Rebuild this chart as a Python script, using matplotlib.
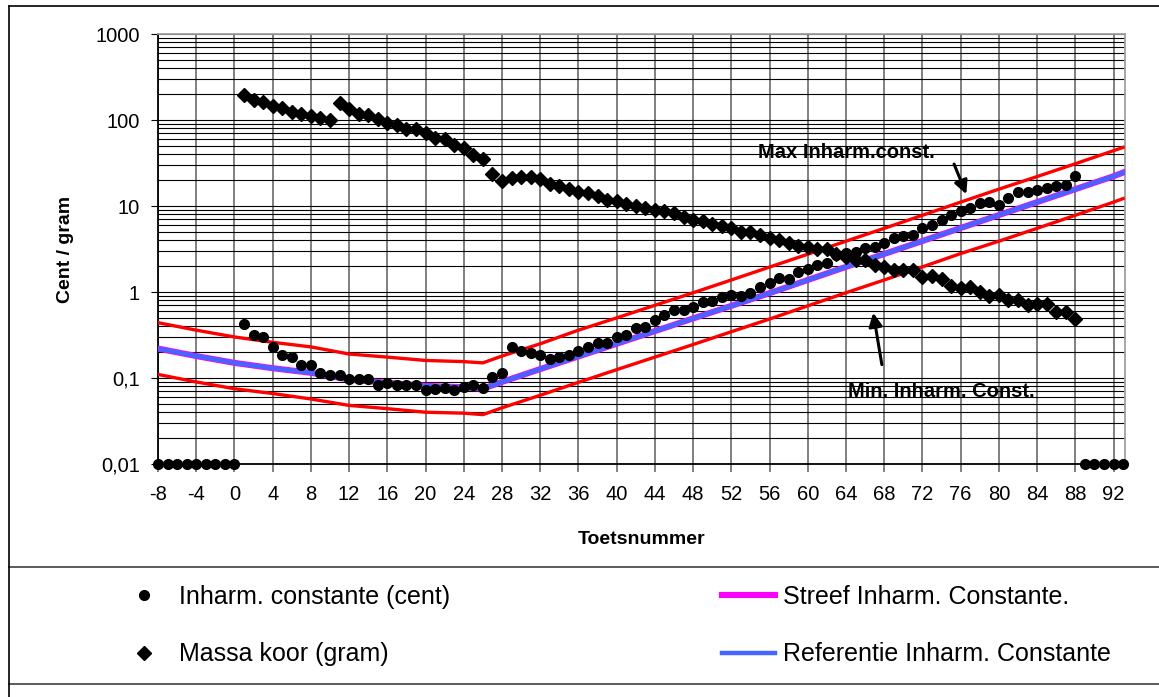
import numpy as np
import matplotlib
matplotlib.use('Agg')
import matplotlib.pyplot as plt
from matplotlib.lines import Line2D
from matplotlib.ticker import LogLocator, NullFormatter

plt.rcParams['font.family'] = ['Liberation Sans', 'DejaVu Sans']

# measured inharmonicity per key (cent), 0.01 = no measurement
keys = list(range(-8, 94))
inharm = [0.01, 0.01, 0.01, 0.01, 0.01, 0.01, 0.01, 0.01, 0.01,
          0.42, 0.32, 0.30, 0.23, 0.187, 0.176, 0.141, 0.143, 0.115, 0.108,
          0.108, 0.097, 0.097, 0.097, 0.082, 0.088, 0.082, 0.082, 0.082, 0.073,
          0.075, 0.077, 0.073, 0.079, 0.082, 0.077, 0.103, 0.113, 0.232, 0.204,
          0.194, 0.184, 0.168, 0.176, 0.184, 0.207, 0.230, 0.252, 0.252, 0.301,
          0.315, 0.377, 0.394, 0.471, 0.539, 0.617, 0.617, 0.674, 0.771, 0.791,
          0.883, 0.922, 0.898, 0.98, 1.15, 1.28, 1.44, 1.41, 1.73, 1.85,
          2.08, 2.18, 2.70, 2.83, 2.88, 3.24, 3.38, 3.76, 4.24, 4.43,
          4.63, 5.53, 6.05, 6.79, 7.91, 8.65, 9.5, 10.8, 11.0, 10.4,
          12.4, 14.4, 14.4, 15.2, 16.2, 16.9, 17.7, 22.1,
          0.01, 0.01, 0.01, 0.01, 0.01]

# string mass per key (gram)
mass_keys = list(range(1, 89))
mass = [195, 171, 162, 145, 139, 125, 118, 111, 106, 99,
        156, 133, 119, 113, 102, 93, 86.5, 77.6, 77.6, 69.8,
        62, 59.4, 50.6, 47.5, 39.7, 35.6, 23.6, 19.6, 21.2, 22.0,
        22.0, 20.5, 18.2, 16.9, 15.8, 14.4, 14.2, 13.2, 11.9, 11.3,
        10.6, 10.0, 9.5, 9.06, 8.65, 8.3, 7.44, 6.92, 6.61, 6.21,
        5.78, 5.53, 5.05, 5.05, 4.63, 4.23, 4.04, 3.70, 3.44, 3.32,
        3.18, 3.18, 2.78, 2.54, 2.36, 2.36, 2.07, 1.94, 1.81, 1.81,
        1.81, 1.51, 1.54, 1.41, 1.17, 1.10, 1.15, 1.01, 0.90, 0.92,
        0.81, 0.81, 0.705, 0.72, 0.72, 0.59, 0.59, 0.49]

# reference / target curve and its max / min band
curve_keys = [-8, -4, 0, 4, 8, 12, 16, 20, 24, 26, 28, 32, 36, 40, 44, 48,
              52, 56, 60, 64, 68, 72, 76, 80, 84, 88, 92, 93]
ref = [0.220, 0.180, 0.150, 0.130, 0.115, 0.096, 0.088, 0.081, 0.078, 0.075,
       0.090, 0.127, 0.178, 0.250, 0.351, 0.493, 0.69, 0.97, 1.38, 1.96,
       2.77, 3.92, 5.55, 7.85, 11.1, 15.7, 22.2, 24.5]
streef = [0.220, 0.180, 0.150, 0.130, 0.115, 0.096, 0.088, 0.081, 0.078, 0.075,
          0.090, 0.127, 0.178, 0.250, 0.351, 0.493, 0.69, 0.97, 1.38, 1.96,
          2.77, 3.92, 5.55, 7.85, 11.1, 15.7, 22.2, 24.5]
max_line = [0.44, 0.36, 0.30, 0.26, 0.23, 0.19, 0.175, 0.16, 0.155, 0.15,
            0.18, 0.25, 0.36, 0.50, 0.70, 0.98, 1.38, 1.95, 2.75, 3.9,
            5.5, 7.8, 11.1, 15.7, 22, 31, 44, 48]
min_line = [0.11, 0.09, 0.075, 0.066, 0.057, 0.048, 0.044, 0.040, 0.039, 0.0375,
            0.045, 0.063, 0.089, 0.125, 0.175, 0.245, 0.345, 0.485, 0.69, 0.98,
            1.38, 1.96, 2.8, 3.9, 5.5, 7.8, 11.1, 12.2]

x_ticks = list(range(-8, 93, 4))
y_ticks = [0.01, 0.1, 1, 10, 100, 1000]
y_tick_labels = ['0,01', '0,1', '1', '10', '100', '1000']

fig = plt.figure(figsize=(11.59, 6.97), dpi=100)
ax = fig.add_axes([0.1363, 0.3343, 0.8344, 0.6169])

# curves first, markers on top
ax.plot(curve_keys, max_line, color='#ff0000', lw=2.4, zorder=3)
ax.plot(curve_keys, min_line, color='#ff0000', lw=2.4, zorder=3)
ax.plot(curve_keys, streef, color='#ff00ff', lw=4.4, zorder=3,
        label='Streef Inharm. Constante.')
ax.plot(curve_keys, ref, color='#4466ff', lw=3.2, zorder=4,
        label='Referentie Inharm. Constante')
ax.plot(keys, inharm, 'o', color='black', ms=7, clip_on=False, zorder=6,
        label='Inharm. constante (cent)')
ax.plot(mass_keys, mass, 'D', color='black', ms=7.3, clip_on=False, zorder=6,
        label='Massa koor (gram)')

ax.set_yscale('log')
ax.set_ylim(0.01, 1000)
ax.set_xlim(-8, 93.2)

ax.set_yticks(y_ticks)
ax.set_yticklabels(y_tick_labels)
ax.yaxis.set_minor_locator(LogLocator(base=10, subs=range(2, 10), numticks=20))
ax.yaxis.set_minor_formatter(NullFormatter())
ax.set_xticks(x_ticks)
ax.set_xticklabels([str(k) for k in x_ticks])

ax.tick_params(axis='y', which='major', labelsize=14.5, length=5, pad=8, color='black')
ax.tick_params(axis='y', which='minor', length=0)
ax.tick_params(axis='x', labelsize=14.5, length=6, pad=9, color='#808080', width=1.4)

# grid: black horizontal, gray vertical
ax.grid(True, axis='y', which='both', color='black', lw=0.8)
ax.grid(True, axis='x', which='major', color='#808080', lw=1.4)
ax.set_axisbelow(True)

ax.spines['left'].set_color('black')
ax.spines['bottom'].set_color('black')
ax.spines['top'].set_color('#a0a0a0')
ax.spines['right'].set_color('#a0a0a0')
for s in ax.spines.values():
    s.set_linewidth(1.3)

ax.set_ylabel('Cent / gram', fontsize=14, fontweight='bold')
ax.yaxis.set_label_coords(-0.087, 0.5)
ax.set_xlabel('Toetsnummer', fontsize=14, fontweight='bold')
ax.xaxis.set_label_coords(0.5, -0.155)

# annotations with arrows
ax.text(64.0, 41.9, 'Max Inharm.const.', ha='center', va='center',
        fontsize=14.5, fontweight='bold', zorder=7)
ax.annotate('', xy=(76.7, 12.8), xytext=(75.2, 32.9),
            arrowprops=dict(arrowstyle='-|>', color='black', lw=2.2, mutation_scale=20),
            zorder=7)
ax.text(74.0, 0.070, 'Min. Inharm. Const.', ha='center', va='center',
        fontsize=14.5, fontweight='bold', zorder=7)
ax.annotate('', xy=(66.8, 0.617), xytext=(67.8, 0.133),
            arrowprops=dict(arrowstyle='-|>', color='black', lw=2.2, mutation_scale=20),
            zorder=7)

# legend in the lower box
handles, labels = ax.get_legend_handles_labels()
order = [2, 3, 0, 1]
fig.legend([handles[i] for i in order], [labels[i] for i in order],
           ncol=2, loc='center', bbox_to_anchor=(0.530, 0.1025), frameon=False,
           fontsize=18, handlelength=2.1, handletextpad=0.35, columnspacing=10.9,
           labelspacing=1.35, borderpad=0, numpoints=1)

# outer frame lines of the chart area
def hline(y_px, color='black'):
    y = 1 - y_px / 697
    fig.add_artist(Line2D([9 / 1159, 1], [y, y], transform=fig.transFigure,
                          color=color, lw=1.2))

hline(6)
hline(567, '#404040')
hline(684, '#404040')
fig.add_artist(Line2D([9 / 1159, 9 / 1159], [0, 1 - 6 / 697],
                      transform=fig.transFigure, color='black', lw=1.2))

plt.savefig('out.png', dpi=100)
